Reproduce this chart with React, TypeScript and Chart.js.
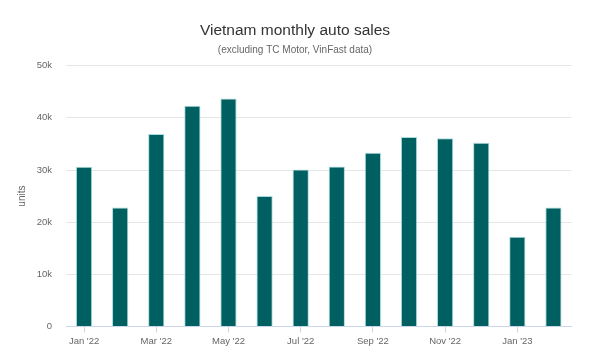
import React, { useEffect, useRef } from "react";
import { Chart, registerables } from "chart.js";

Chart.register(...registerables);

const months = [
  "Jan '22", "Feb '22", "Mar '22", "Apr '22", "May '22", "Jun '22", "Jul '22",
  "Aug '22", "Sep '22", "Oct '22", "Nov '22", "Dec '22", "Jan '23", "Feb '23",
];
const sales = [
  30600, 22800, 36900, 42300, 43700, 25000, 30100,
  30650, 33300, 36300, 36100, 35200, 17200, 22800,
];
const titleText = "Vietnam monthly auto sales";
const subtitleText = "(excluding TC Motor, VinFast data)";
const yAxisTitle = "units";

const FONT = "'Liberation Sans', Arial, Helvetica, sans-serif";

export default function App() {
  const ref = useRef<HTMLCanvasElement | null>(null);

  useEffect(() => {
    document.body.style.margin = "0";
    const ctx = ref.current!.getContext("2d")!;
    const chart = new Chart(ctx, {
      type: "bar",
      data: {
        labels: months,
        datasets: [
          {
            data: sales,
            backgroundColor: "#005f60",
            borderColor: "rgba(160,215,215,0.9)",
            borderWidth: 1,
            barPercentage: 0.45,
            categoryPercentage: 1,
            yAxisID: "y",
          },
        ],
      },
      options: {
        animation: false,
        responsive: false,
        maintainAspectRatio: false,
        layout: { padding: { left: 10, right: 20, top: 0, bottom: 3 } },
        plugins: {
          legend: { display: false },
          tooltip: { enabled: false },
          title: {
            display: true,
            text: titleText,
            color: "#333333",
            font: { family: FONT, size: 15.5, weight: "normal" },
            padding: { top: 21, bottom: 5 },
          },
          subtitle: {
            display: true,
            text: subtitleText,
            color: "#666666",
            font: { family: FONT, size: 10, weight: "normal" },
            padding: { top: 0, bottom: 9 },
          },
        },
        scales: {
          x: {
            grid: {
              display: true,
              drawOnChartArea: false,
              drawTicks: true,
              tickLength: 6,
              color: "#ccd6eb",
              offset: false,
            },
            border: { display: true, color: "#ccd6eb" },
            ticks: {
              autoSkip: false,
              maxRotation: 0,
              color: "#666666",
              padding: 3,
              font: { family: FONT, size: 9.5 },
              callback: (_v: any, i: number) => (i % 2 === 0 ? months[i] : null),
            },
          },
          y: {
            min: 0,
            max: 50000,
            afterFit: (scale: any) => {
              scale.width = 56;
            },
            grid: { color: "#e6e6e6", drawTicks: false },
            border: { display: false },
            title: {
              display: true,
              text: yAxisTitle,
              color: "#666666",
              font: { family: FONT, size: 10 },
              padding: { top: 6, bottom: 0 },
            },
            ticks: {
              stepSize: 10000,
              color: "#666666",
              padding: 14,
              font: { family: FONT, size: 9.5 },
              callback: (v: any) => (v === 0 ? "0" : `${Number(v) / 1000}k`),
            },
          },
          yRight: {
            position: "right",
            min: 0,
            max: 50000,
            afterFit: (scale: any) => {
              scale.width = 8.5;
            },
            grid: { display: false, drawTicks: false },
            border: { display: false },
            ticks: { display: false },
          },
        },
      },
    });
    return () => chart.destroy();
  }, []);

  return (
    <div style={{ width: 600, height: 353, background: "#ffffff" }}>
      <canvas ref={ref} width={600} height={353} style={{ display: "block" }} />
    </div>
  );
}
